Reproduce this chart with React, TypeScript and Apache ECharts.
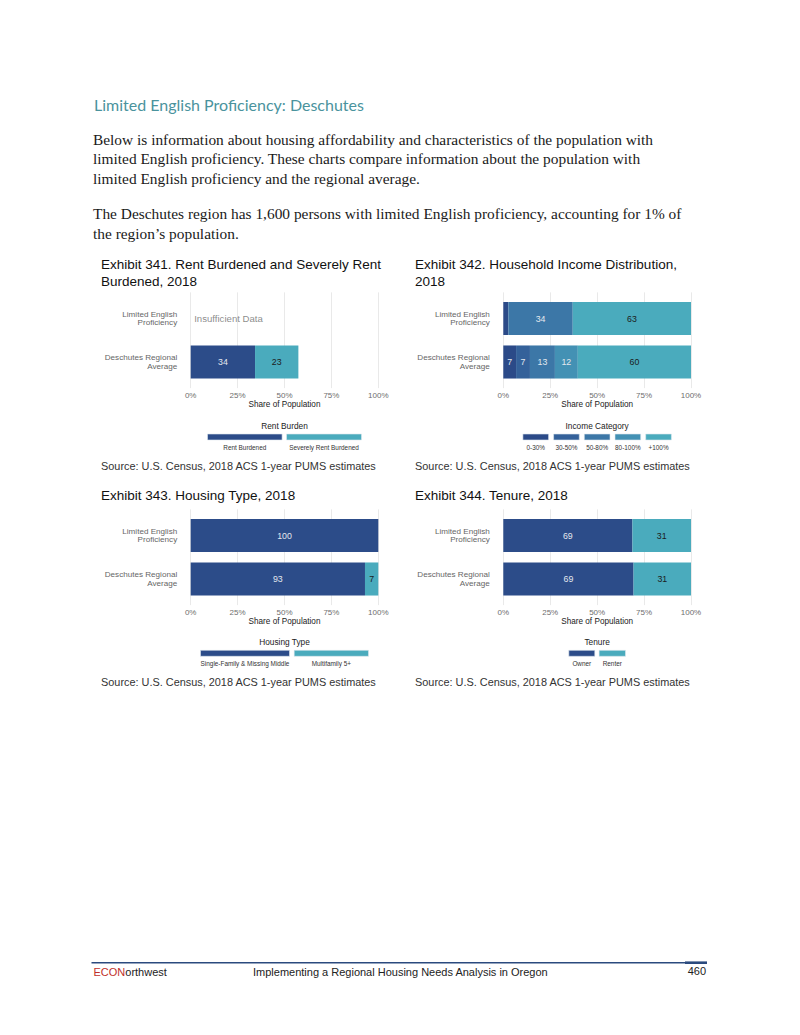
import React, { useEffect, useRef } from 'react';
import * as echarts from 'echarts';

// ---------- data ----------
const rowLabels = ['Limited English\nProficiency', 'Deschutes Regional\nAverage'];
const xTickStep = 25;

const rentCategories = ['Rent Burdened', 'Severely Rent Burdened'];
const rentLEP: (number | null)[] = [null, null];
const rentRegion = [34.3, 23.1];
const insufficientText = 'Insufficient Data';

const incomeCategories = ['0-30%', '30-50%', '50-80%', '80-100%', '+100%'];
const incomeLEP = [2.7, 0, 34.3, 0, 63];
const incomeRegion = [6.8, 7.4, 13.3, 12.2, 60.3];

const housingCategories = ['Single-Family & Missing Middle', 'Multifamily 5+'];
const housingLEP = [100, 0];
const housingRegion = [92.9, 7.1];

const tenureCategories = ['Owner', 'Renter'];
const tenureLEP = [68.8, 31.2];
const tenureRegion = [69.4, 30.6];

const twoColors = ['#2c4c89', '#4aabbd'];
const incomeColors = ['#2b4a88', '#34619a', '#3c77a7', '#4391b4', '#4aabbd'];

const headingText = 'Limited English Proficiency: Deschutes';
const bodyLines = [
  'Below is information about housing affordability and characteristics of the population with',
  'limited English proficiency. These charts compare information about the population with',
  'limited English proficiency and the regional average.',
  'The Deschutes region has 1,600 persons with limited English proficiency, accounting for 1% of',
  'the region\u2019s population.',
];
const sourceText = 'Source: U.S. Census, 2018 ACS 1-year PUMS estimates';
const footerText = 'Implementing a Regional Housing Needs Analysis in Oregon';
const pageNumber = '460';

// ---------- layout ----------
const SANS = '"Liberation Sans", Arial, sans-serif';
const SERIF = '"Liberation Serif", "Times New Roman", serif';

const panels = [
  {
    title: ['Exhibit 341. Rent Burdened and Severely Rent', 'Burdened, 2018'],
    titleX: 101, titleY: 264.5,
    left: 190.7, right: 378.3, c1: 318.5,
    cats: rentCategories, lep: rentLEP, region: rentRegion, colors: twoColors,
    legendTitle: 'Rent Burden', legendY: 426, keyWidths: [74.6, 75], keyGap: 4.4,
    sourceX: 101, sourceY: 466,
  },
  {
    title: ['Exhibit 342. Household Income Distribution,', '2018'],
    titleX: 415, titleY: 264.5,
    left: 503.3, right: 691, c1: 318.5,
    cats: incomeCategories, lep: incomeLEP, region: incomeRegion, colors: incomeColors,
    legendTitle: 'Income Category', legendY: 426, keyWidths: [25.7, 25.7, 25.7, 25.7, 25.7], keyGap: 5,
    sourceX: 415, sourceY: 466,
  },
  {
    title: ['Exhibit 343. Housing Type, 2018'],
    titleX: 101, titleY: 495,
    left: 190.7, right: 378.3, c1: 535.5,
    cats: housingCategories, lep: housingLEP, region: housingRegion, colors: twoColors,
    legendTitle: 'Housing Type', legendY: 642.3, keyWidths: [89, 74.3], keyGap: 4.7,
    sourceX: 101, sourceY: 681.7,
  },
  {
    title: ['Exhibit 344. Tenure, 2018'],
    titleX: 415, titleY: 495,
    left: 503.3, right: 691, c1: 535.5,
    cats: tenureCategories, lep: tenureLEP, region: tenureRegion, colors: twoColors,
    legendTitle: 'Tenure', legendY: 642.3, keyWidths: [26, 26.4], keyGap: 4.3,
    sourceX: 415, sourceY: 681.7,
  },
];

function txt(text: string, x: number, y: number, font: string, fill: string, align = 'left', extra: any = {}) {
  return {
    type: 'text',
    silent: true,
    style: {
      text, x, y, font, fill,
      align, textAlign: align,
      verticalAlign: 'middle', textVerticalAlign: 'middle',
      ...extra,
    },
  };
}

function buildOption() {
  const grid: any[] = [];
  const xAxis: any[] = [];
  const yAxis: any[] = [];
  const series: any[] = [];
  const graphic: any[] = [];
  const band = 43.5;

  panels.forEach((p, i) => {
    const w = p.right - p.left;
    grid.push({ left: p.left, top: p.c1 - 0.6 * band, width: w, height: 2.2 * band });
    grid.push({ left: p.left, top: p.c1 - 0.5 * band, width: w, height: 2 * band });

    xAxis.push({
      gridIndex: 2 * i, type: 'value', min: 0, max: 100, interval: xTickStep,
      splitLine: { show: true, lineStyle: { color: '#e9e9e9', width: 1 } },
      axisLine: { show: false }, axisTick: { show: false },
      axisLabel: { formatter: '{value}%', color: '#6e6e6e', fontSize: 8, margin: 3.5, fontFamily: SANS },
      name: 'Share of Population', nameLocation: 'middle', nameGap: 12.5,
      nameTextStyle: { color: '#222222', fontSize: 8.2, fontFamily: SANS },
    });
    yAxis.push({ gridIndex: 2 * i, type: 'value', min: 0, max: 1, show: false });
    xAxis.push({ gridIndex: 2 * i + 1, type: 'value', min: 0, max: 100, show: false });
    yAxis.push({
      gridIndex: 2 * i + 1, type: 'category', inverse: true, data: rowLabels,
      axisLine: { show: false }, axisTick: { show: false }, splitLine: { show: false },
      axisLabel: { color: '#666666', fontSize: 8.1, lineHeight: 8.7, margin: 13.5, fontFamily: SANS, align: 'right' },
    });

    p.cats.forEach((c, k) => {
      const col = p.colors[k];
      const isLight = k === p.cats.length - 1;
      series.push({
        type: 'bar', name: c, stack: 'p' + i,
        xAxisIndex: 2 * i + 1, yAxisIndex: 2 * i + 1,
        barCategoryGap: '24%',
        data: [p.lep[k], p.region[k]],
        itemStyle: { color: col },
        label: {
          show: true, position: 'inside', fontSize: 8.8, fontFamily: SANS,
          color: isLight ? '#1c1c1c' : '#e4e8ee',
          formatter: (pp: any) => (pp.value != null && pp.value >= 4 ? String(Math.round(pp.value)) : ''),
        },
        silent: true,
      });
    });

    if (i === 0) {
      series.push({
        type: 'scatter', xAxisIndex: 1, yAxisIndex: 1, symbolSize: 0,
        data: [[0, 0]], silent: true,
        label: { show: true, position: 'right', distance: 3.5, formatter: insufficientText, color: '#6e6e6e', fontSize: 9.6, fontFamily: SANS },
      });
    }

    // titles
    p.title.forEach((t, j) => {
      graphic.push(txt(t, p.titleX, p.titleY + j * 17, `13.5px ${SANS}`, '#111111'));
    });
    // source
    graphic.push(txt(sourceText, p.sourceX, p.sourceY, `10.9px ${SANS}`, '#333333'));

    // legend
    const cx = (p.left + p.right) / 2;
    graphic.push(txt(p.legendTitle, cx, p.legendY, `8.3px ${SANS}`, '#222222', 'center'));
    const total = p.keyWidths.reduce((a, b) => a + b, 0) + p.keyGap * (p.keyWidths.length - 1);
    let kx = cx - total / 2;
    p.cats.forEach((c, k) => {
      const kw = p.keyWidths[k];
      graphic.push({
        type: 'rect', silent: true,
        shape: { x: kx, y: p.legendY + 8, width: kw, height: 6 },
        style: { fill: p.colors[k], stroke: '#dfe8ee', lineWidth: 0.6 },
      });
      graphic.push(txt(c, kx + kw / 2, p.legendY + 21.2, `6.4px ${SANS}`, '#333333', 'center'));
      kx += kw + p.keyGap;
    });
  });

  // heading & body
  graphic.push(txt(headingText, 94, 104, `16px Lato, "Open Sans", sans-serif`, '#4a939d'));
  const bodyY = [139, 158.7, 178.4, 213.4, 233.1];
  bodyLines.forEach((l, j) => {
    graphic.push(txt(l, 93, bodyY[j], `15.4px ${SERIF}`, '#1a1a1a'));
  });

  // footer
  graphic.push({ type: 'line', silent: true, shape: { x1: 91.5, y1: 962.7, x2: 707, y2: 962.7 }, style: { stroke: '#2b4a7e', lineWidth: 1.5 } });
  graphic.push({ type: 'line', silent: true, shape: { x1: 685, y1: 962.7, x2: 707, y2: 962.7 }, style: { stroke: '#2b4a7e', lineWidth: 2.6 } });
  graphic.push({
    type: 'text', silent: true,
    style: {
      text: '{r|ECON}{k|orthwest}', x: 93.5, y: 972, font: `11px ${SANS}`,
      verticalAlign: 'middle', textVerticalAlign: 'middle',
      rich: {
        r: { fill: '#c0302a', color: '#c0302a', font: `11px ${SANS}`, fontSize: 11, fontFamily: SANS },
        k: { fill: '#222222', color: '#222222', font: `11px ${SANS}`, fontSize: 11, fontFamily: SANS },
      },
    },
  });
  graphic.push(txt(footerText, 253, 972, `11px ${SANS}`, '#222222'));
  graphic.push(txt(pageNumber, 706, 971, `11px ${SANS}`, '#222222', 'right'));

  return {
    animation: false,
    backgroundColor: '#ffffff',
    grid, xAxis, yAxis, series,
    graphic: { elements: graphic },
  };
}

export default function App() {
  const ref = useRef<HTMLDivElement>(null);
  useEffect(() => {
    if (!ref.current) return;
    const chart = echarts.init(ref.current, undefined, { renderer: 'svg' });
    chart.setOption(buildOption() as any);
    return () => chart.dispose();
  }, []);
  return (
    <div
      ref={ref}
      style={{ position: 'absolute', left: 0, top: 0, width: 800, height: 1035, background: '#ffffff' }}
    />
  );
}
